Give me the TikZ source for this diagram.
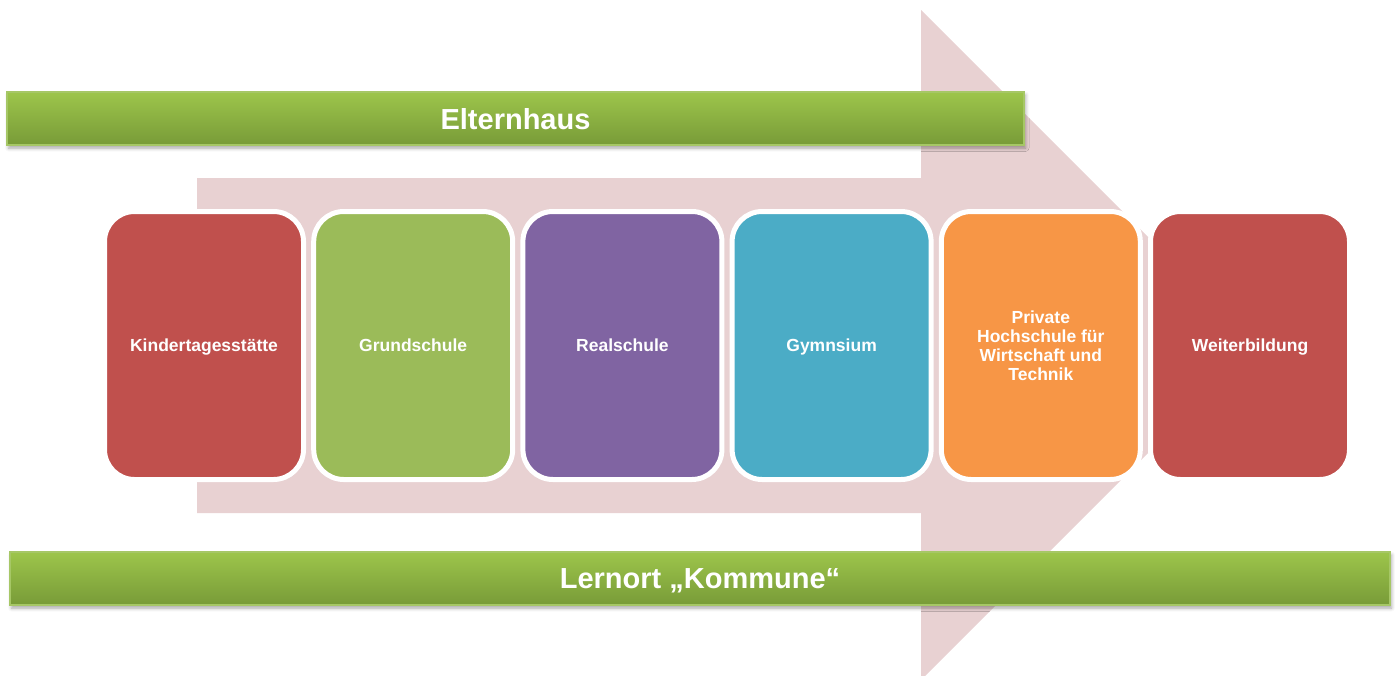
\documentclass[tikz,border=0pt]{standalone}
\usepackage{fontspec}
\setmainfont{Liberation Sans}
\usetikzlibrary{shadows.blur}
\definecolor{cRed}{HTML}{C0504D}
\definecolor{cGreen}{HTML}{9BBB59}
\definecolor{cPurple}{HTML}{8064A2}
\definecolor{cBlue}{HTML}{4BACC6}
\definecolor{cOrange}{HTML}{F79646}
\definecolor{cArrow}{HTML}{E8D1D2}
\definecolor{barTop}{HTML}{9DC54B}
\definecolor{barBot}{HTML}{789B38}
\definecolor{barEdge}{HTML}{A6C766}
\tikzset{
  stagebox/.style={draw=white, line width=5pt, rounded corners=30pt,
    minimum width=199pt, minimum height=268pt, inner sep=0pt,
    text=white, align=center, text depth=0pt,
    font=\fontsize{17.5}{19}\selectfont\bfseries},
  greenbar/.style={draw=barEdge, line width=1.5pt, top color=barTop, bottom color=barBot,
    minimum height=53pt, inner sep=0pt, text=white, text depth=0pt,
    font=\fontsize{29}{32}\selectfont\bfseries,
    blur shadow={shadow xshift=1.5pt, shadow yshift=-3pt, shadow blur radius=3.5pt, shadow opacity=35}},
}
\begin{document}
\begin{tikzpicture}[x=1pt,y=-1pt]
\useasboundingbox (0,0) rectangle (1395,675);
% big arrow
\fill[cArrow] (197,178) -- (921,178) -- (921,10) -- (1256,345) -- (921,680) -- (921,513) -- (197,513) -- cycle;
% bars
\node[greenbar, minimum width=1017pt] (eltern) at (515.5,118.5) {Elternhaus};
\node[greenbar, minimum width=1380pt] (kommune) at (700,578.5) {Lernort „Kommune“};
% stages
\node[stagebox, fill=cRed]    (s1) at (204,345.5)    {Kindertagesstätte};
\node[stagebox, fill=cGreen]  (s2) at (413.2,345.5)  {Grundschule};
\node[stagebox, fill=cPurple] (s3) at (622.4,345.5)  {Realschule};
\node[stagebox, fill=cBlue]   (s4) at (831.6,345.5)  {Gymnsium};
\node[stagebox, fill=cOrange] (s5) at (1040.8,345.5) {Private\\Hochschule für\\Wirtschaft und\\Technik};
\node[stagebox, fill=cRed]    (s6) at (1250,345.5)   {Weiterbildung};
\end{tikzpicture}
\end{document}
